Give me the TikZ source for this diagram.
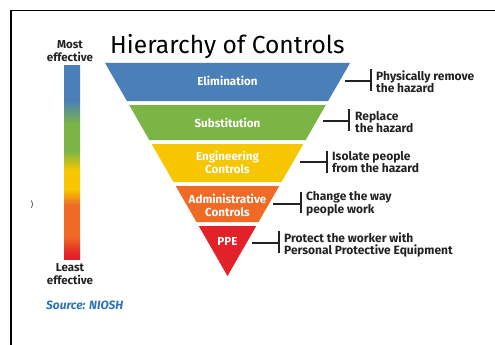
\documentclass[tikz,border=0pt]{standalone}
\usepackage{fontspec}
\setmainfont{Fira Sans}
\definecolor{cblue}{HTML}{4A7FB7}
\definecolor{cgreen}{HTML}{7BB545}
\definecolor{cyellow}{HTML}{F6C700}
\definecolor{corange}{HTML}{EF6B25}
\definecolor{cred}{HTML}{E32129}
\definecolor{ctext}{HTML}{222222}
\definecolor{csrc}{HTML}{2E75B6}
\pgfdeclareverticalshading{effbar}{100bp}{%
  color(0bp)=(cred); color(26bp)=(cred); color(31bp)=(corange); color(39bp)=(corange);
  color(43bp)=(cyellow); color(48bp)=(cyellow); color(53bp)=(cgreen); color(60bp)=(cgreen);
  color(66bp)=(cblue); color(100bp)=(cblue)}
\begin{document}
\begin{tikzpicture}[x=1pt,y=-1pt,
  lvl/.style={text=white,font=\bfseries\fontsize{11.6}{12.5}\selectfont,align=center},
  desc/.style={text=ctext,font=\bfseries\fontsize{12}{12.5}\selectfont,align=left,anchor=west,inner sep=0pt},
  conn/.style={draw=ctext,line width=1.1pt},
  endbar/.style={draw=ctext,line width=1.1pt},
  side/.style={text=ctext,font=\bfseries\fontsize{11.5}{13}\selectfont,align=center,inner sep=0pt}]
\useasboundingbox (0,0) rectangle (495,345);
\fill[white] (0,0) rectangle (495,345);
% frame
\draw[line width=1.6pt,black] (11,345) -- (11,10.5) -- (495,10.5);
% title
\node[anchor=base west,inner sep=0pt,font=\fontsize{24.6}{27}\selectfont,text=black] (title) at (110,54) {Hierarchy of Controls};
% effectiveness bar
\node[side] (most) at (70,51.5) {Most\\effective};
\shade[shading=effbar] (64,66) rectangle (80,259);
\node[side] (least) at (70,274.5) {Least\\effective};
\node[anchor=west,inner sep=0pt,text=csrc,font=\bfseries\itshape\fontsize{12}{13}\selectfont] (src) at (46,305) {Source: NIOSH};
\node[inner sep=0pt,font=\fontsize{8}{9}\selectfont,text=ctext] (paren) at (32,205) {)};
% pyramid
\fill[cblue] (105,63) -- (350,63) -- (328.1,101) -- (126.9,101) -- cycle;
\fill[cgreen] (129.2,105) -- (325.8,105) -- (305.7,140) -- (149.3,140) -- cycle;
\fill[cyellow] (151.6,144) -- (303.4,144) -- (281.5,182) -- (173.5,182) -- cycle;
\fill[corange] (175.75,186) -- (279.25,186) -- (258.5,222) -- (196.5,222) -- cycle;
\fill[cred] (198.75,226) -- (256.25,226) -- (227.5,276) -- cycle;
\node[lvl] (elim) at (227.5,81) {Elimination};
\node[lvl] (subst) at (227.5,123) {Substitution};
\node[lvl] (eng) at (227.5,162.5) {Engineering\\Controls};
\node[lvl] (adm) at (227.5,205.5) {Administrative\\Controls};
\node[lvl] (ppe) at (227.5,241) {PPE};
% connectors
\coordinate (a1) at (345,81); \coordinate (b1) at (371,81);
\coordinate (a2) at (323,121); \coordinate (b2) at (349,121);
\coordinate (a3) at (300,162); \coordinate (b3) at (327,162);
\coordinate (a4) at (273,204); \coordinate (b4) at (301,204);
\coordinate (a5) at (252,243); \coordinate (b5) at (279,243);
\draw[conn] (a1) -- (b1); \draw[endbar] ([yshift=-10pt]b1) -- ([yshift=12pt]b1);
\draw[conn] (a2) -- (b2); \draw[endbar] ([yshift=-10pt]b2) -- ([yshift=12pt]b2);
\draw[conn] (a3) -- (b3); \draw[endbar] ([yshift=-11pt]b3) -- ([yshift=11pt]b3);
\draw[conn] (a4) -- (b4); \draw[endbar] ([yshift=-9pt]b4) -- ([yshift=12pt]b4);
\draw[conn] (a5) -- (b5); \draw[endbar] ([yshift=-10pt]b5) -- ([yshift=12pt]b5);
\node[desc] (d1) at (376,81.5) {Physically remove\\the hazard};
\node[desc] (d2) at (355,122) {Replace\\the hazard};
\node[desc] (d3) at (332,162) {Isolate people\\from the hazard};
\node[desc] (d4) at (306,204) {Change the way\\people work};
\node[desc] (d5) at (284,245) {Protect the worker with\\Personal Protective Equipment};
\end{tikzpicture}
\end{document}
